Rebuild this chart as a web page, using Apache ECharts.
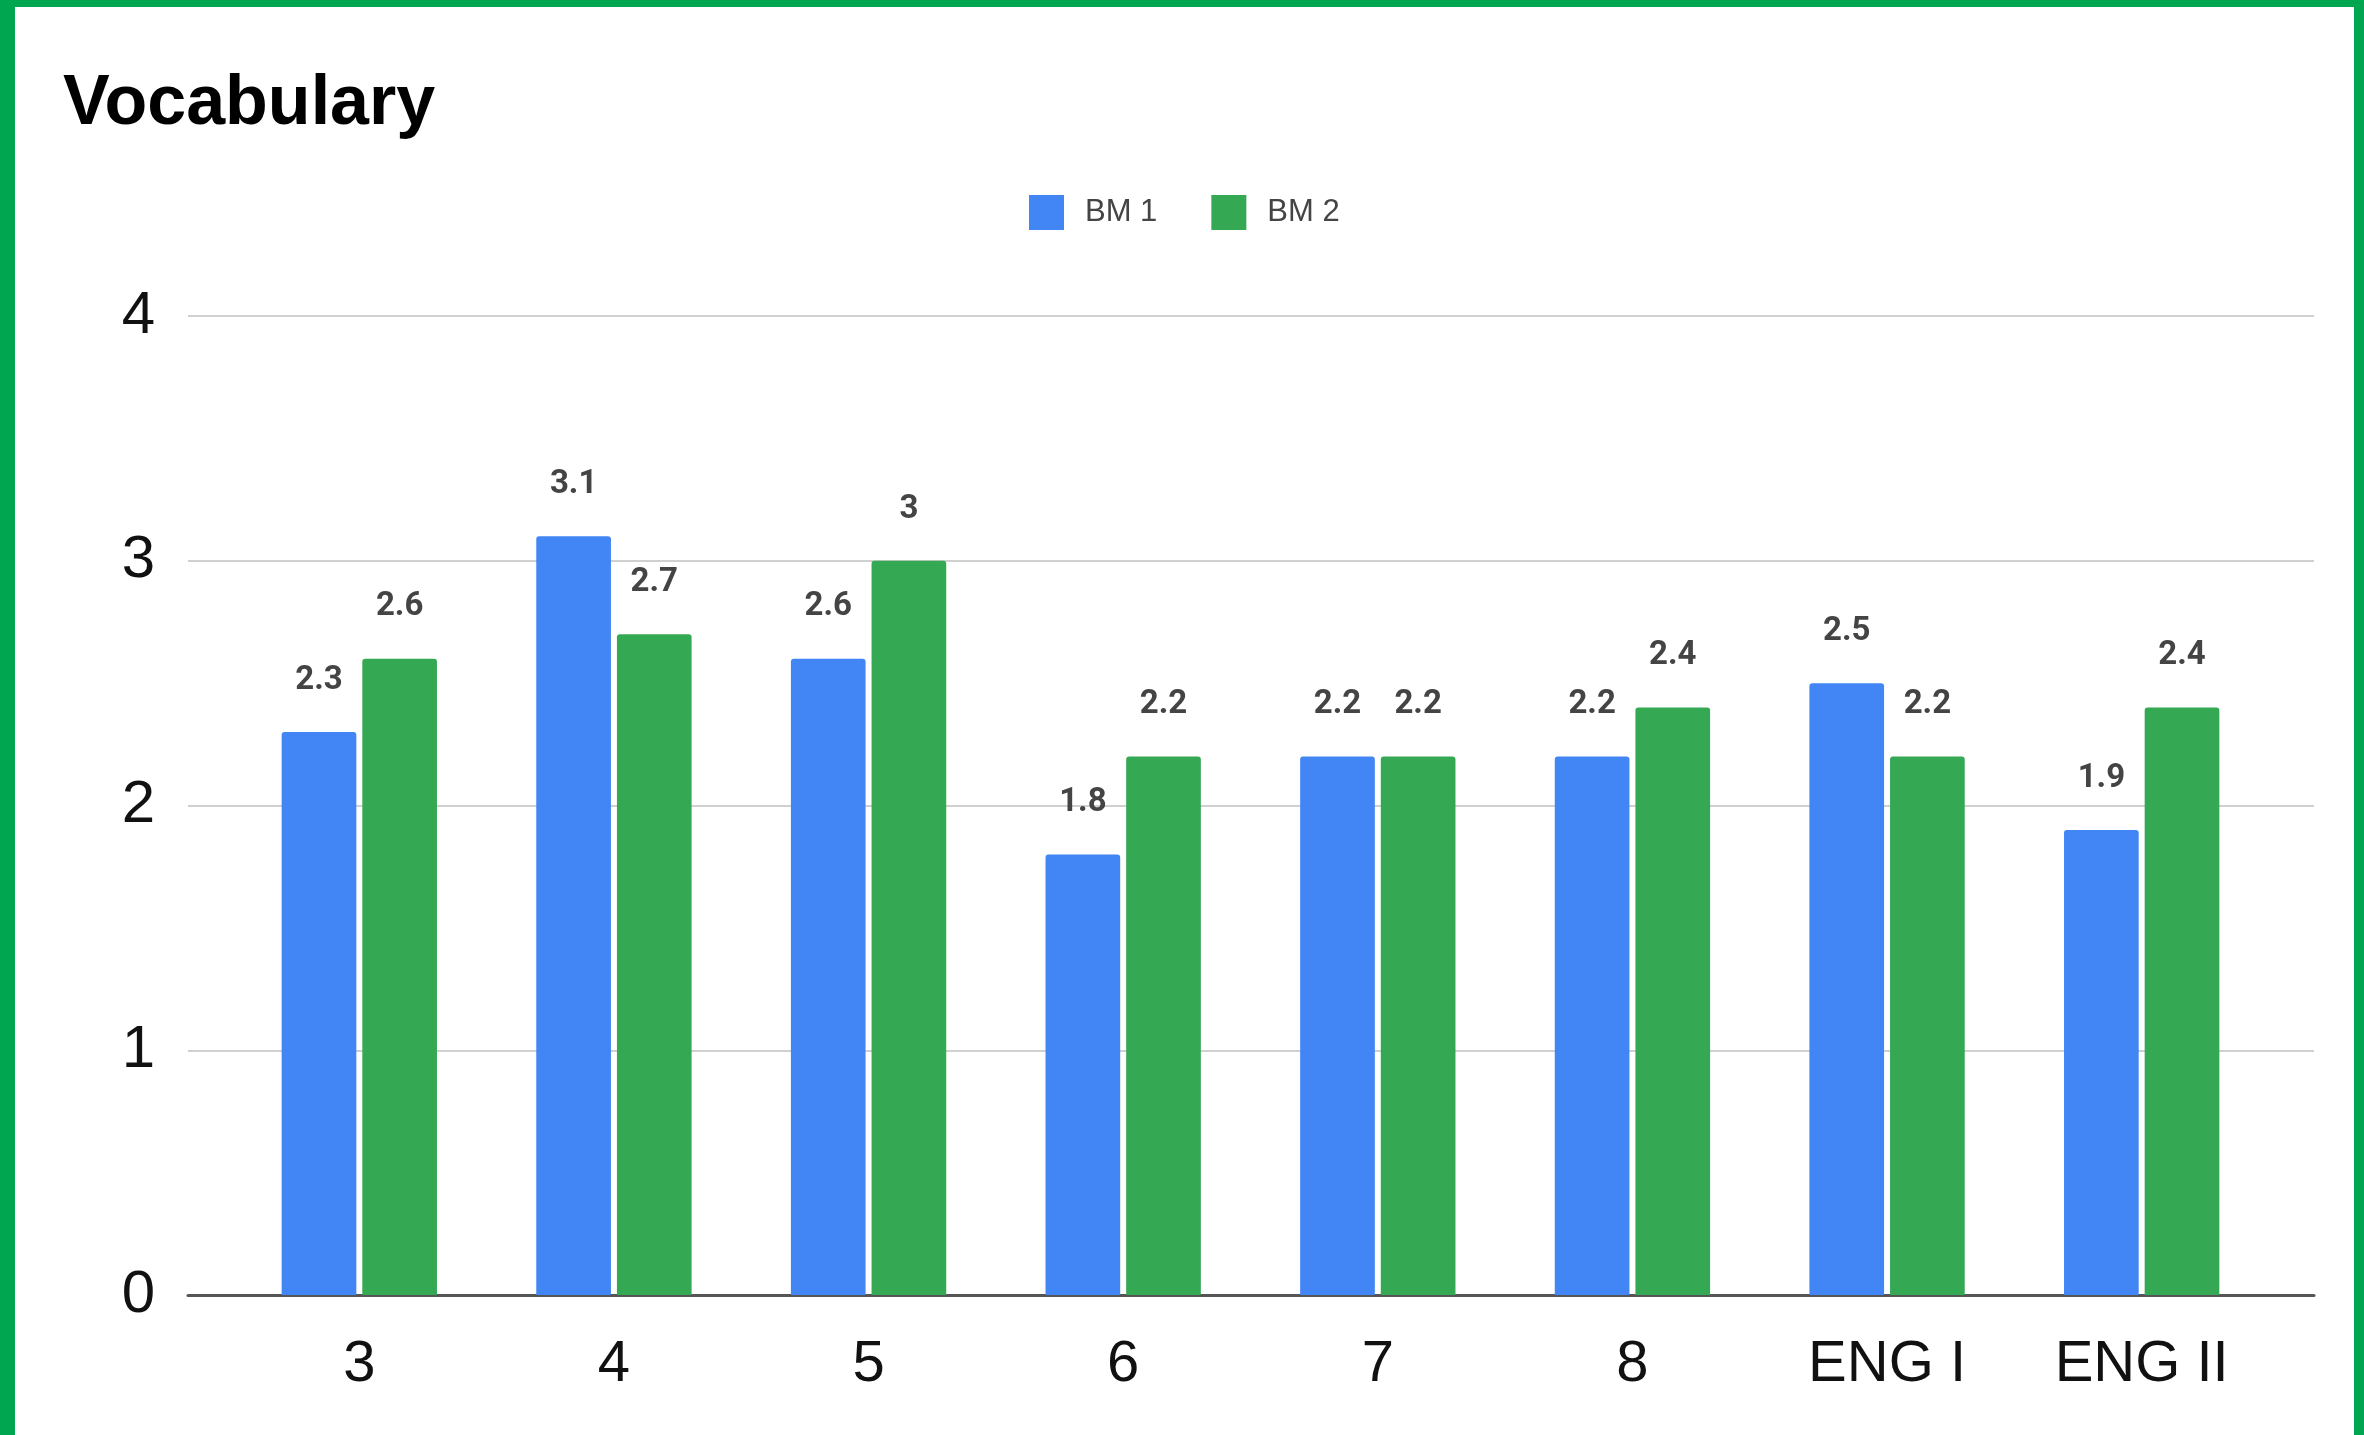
<!DOCTYPE html>
<html>
<head>
<meta charset="utf-8">
<script src="https://cdn.jsdelivr.net/npm/echarts@6/dist/echarts.min.js"></script>
<style>
  html, body { margin: 0; padding: 0; background: #fff; }
  #chart { position: absolute; left: 0; top: 0; width: 2364px; height: 1435px; }
  #frame {
    position: absolute; left: 0; top: 0; width: 2364px; height: 1435px;
    box-sizing: border-box; pointer-events: none;
    border-top: 7px solid #00a650; border-left: 15px solid #00a650; border-right: 10px solid #00a650;
  }
</style>
</head>
<body>
<div id="chart"></div>
<div id="frame"></div>
<script>
// Grade levels / courses on the x axis
const categories = ['3', '4', '5', '6', '7', '8', 'ENG I', 'ENG II'];
// Benchmark scores
const bm1 = [2.3, 3.1, 2.6, 1.8, 2.2, 2.2, 2.5, 1.9];
const bm2 = [2.6, 2.7, 3, 2.2, 2.2, 2.4, 2.2, 2.4];
const seriesNames = ['BM 1', 'BM 2'];
const yTicks = { min: 0, max: 4, interval: 1 };

const chart = echarts.init(document.getElementById('chart'), null, { renderer: 'canvas' });

const labelStyle = {
  show: true,
  position: 'top',
  distance: 35,
  fontFamily: 'Roboto',
  fontWeight: 'bold',
  fontSize: 33,
  color: '#444'
};

chart.setOption({
  animation: false,
  backgroundColor: '#fff',
  title: {
    text: 'Vocabulary',
    left: 58,
    top: 65,
    textStyle: { fontFamily: 'Liberation Sans', fontWeight: 'bold', fontSize: 70, color: '#000' }
  },
  legend: {
    left: 1024,
    top: 190,
    itemWidth: 35,
    itemHeight: 35,
    itemGap: 54,
    icon: 'rect',
    data: seriesNames,
    textStyle: { fontFamily: 'Liberation Sans', fontSize: 31, color: '#444', padding: [0, 0, 0, 16] }
  },
  grid: [
    // full-width frame carrying the gridlines and the baseline
    { left: 188, right: 50, top: 316, bottom: 140 },
    // inner band holding the bars
    { left: 232, right: 95, top: 316, bottom: 140 }
  ],
  xAxis: [
    {
      gridIndex: 0, type: 'category', data: categories,
      axisLine: { show: true, lineStyle: { color: '#555', width: 3 } },
      axisTick: { show: false }, axisLabel: { show: false }, splitLine: { show: false }
    },
    {
      gridIndex: 1, type: 'category', data: categories,
      axisLine: { show: false }, axisTick: { show: false },
      axisLabel: { margin: 41, fontFamily: 'Liberation Sans', fontSize: 58, color: '#111' }
    }
  ],
  yAxis: [
    {
      gridIndex: 0, type: 'value', min: yTicks.min, max: yTicks.max, interval: yTicks.interval,
      axisLine: { show: false }, axisTick: { show: false },
      axisLabel: { margin: 33, fontFamily: 'Liberation Sans', fontSize: 60, color: '#111', padding: [6, 0, 0, 0] },
      splitLine: { show: true, lineStyle: { color: '#d0d0d0', width: 2 } }
    },
    {
      gridIndex: 1, type: 'value', min: yTicks.min, max: yTicks.max, interval: yTicks.interval,
      show: false, splitLine: { show: false }
    }
  ],
  series: [
    {
      name: seriesNames[0], type: 'bar', xAxisIndex: 1, yAxisIndex: 1, data: bm1,
      barGap: '8%', barCategoryGap: '39%',
      itemStyle: { color: '#4285f4', borderRadius: [3, 3, 0, 0] },
      label: labelStyle
    },
    {
      name: seriesNames[1], type: 'bar', xAxisIndex: 1, yAxisIndex: 1, data: bm2,
      barGap: '8%', barCategoryGap: '39%',
      itemStyle: { color: '#34a853', borderRadius: [3, 3, 0, 0] },
      label: labelStyle
    }
  ]
});
</script>
</body>
</html>
